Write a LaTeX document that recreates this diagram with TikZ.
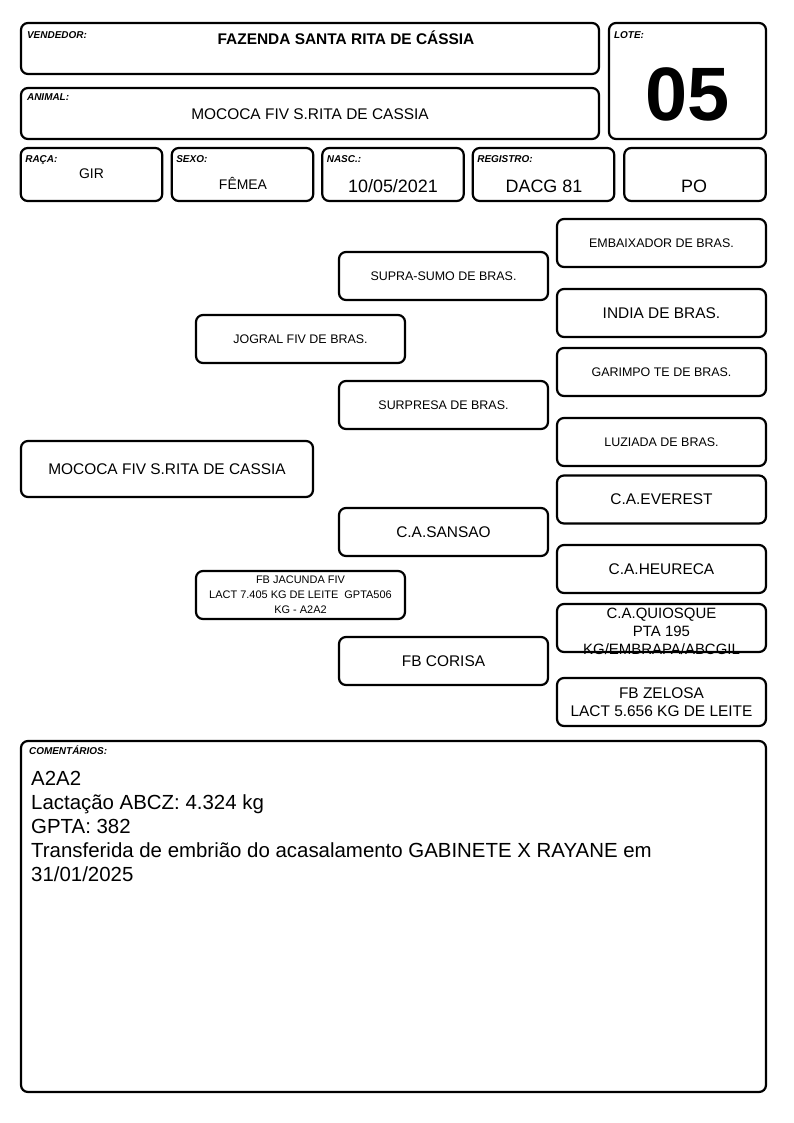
\documentclass[tikz,border=0pt]{standalone}
\usepackage{fontspec}
\setmainfont{Liberation Sans}
\usepackage{tikz}

\begin{document}
\begin{tikzpicture}[x=1bp,y=-1bp,
	caixa/.style={draw,rounded corners=7bp,line width=2.2bp,inner sep=0pt},
	rotulo/.style={font={\fontsize{10}{12}\selectfont\bfseries\itshape},anchor=base west,inner sep=0pt},
	valor/.style={font={\fontsize{14}{16}\selectfont},anchor=base,inner sep=0pt}] % ficha do lote
	\useasboundingbox (0,0) rectangle (794,1123);
	
	% cabecalho
	\node[caixa,minimum width=578bp,minimum height=51bp] (vendedor) at (310,48.5){};
	\node[caixa,minimum width=578bp,minimum height=51bp] (animal) at (310,113.5){};
	\node[caixa,minimum width=157bp,minimum height=116bp] (lote) at (687.5,81){};
	
	\node[rotulo] (rvendedor) at ([shift={(7,17)}] vendedor.north west){VENDEDOR:};
	\node[rotulo] (ranimal) at ([shift={(7,14)}] animal.north west){ANIMAL:};
	\node[rotulo] (rlote) at ([shift={(6,17)}] lote.north west){LOTE:};
	
	\node[font={\fontsize{15.5}{18}\selectfont\bfseries},anchor=base,inner sep=0pt] 
	(nvendedor) at (346,44){FAZENDA SANTA RITA DE CÁSSIA};
	\node[font={\fontsize{15.5}{18}\selectfont},anchor=base,inner sep=0pt] 
	(nanimal) at (310,119){MOCOCA FIV S.RITA DE CASSIA};
	\node[font={\fontsize{76}{80}\selectfont\bfseries},anchor=base,inner sep=0pt] 
	(nlote) at (687.5,120){05};
	
	% linha de dados
	\foreach \i/\cx/\rot in {1/91.5/RAÇA:,2/242.5/SEXO:,3/393/NASC.:,4/543.5/REGISTRO:,5/695/}{
		\node[caixa,minimum width=141.5bp,minimum height=53bp] (d\i) at (\cx,174.5){};
		\node[rotulo] (rd\i) at ([shift={(5.5,15.5)}] d\i.north west){\rot};
	}
	\node[valor] (v1) at (91.5,178){GIR};
	\node[valor] (v2) at (243,189){FÊMEA};
	\node[valor,font={\fontsize{18}{20}\selectfont}] (v3) at (393,192){10/05/2021};
	\node[valor,font={\fontsize{18}{20}\selectfont}] (v4) at (544,192){DACG 81};
	\node[valor,font={\fontsize{18}{20}\selectfont}] (v5) at (694,192){PO};
	
	% genealogia
	\foreach \i/\cx/\cy/\tam/\nome in {1/661.5/243/12.5/EMBAIXADOR DE BRAS.,
		2/443.5/276/12.5/SUPRA-SUMO DE BRAS.,
		3/661.5/313/15.5/INDIA DE BRAS.,
		4/300.5/339/12.5/JOGRAL FIV DE BRAS.,
		5/661.5/372/12.5/GARIMPO TE DE BRAS.,
		6/443.5/405/12.5/SURPRESA DE BRAS.,
		7/661.5/442/12.5/LUZIADA DE BRAS.,
		8/661.5/499.5/15.5/C.A.EVEREST,
		9/443.5/532/15.5/C.A.SANSAO,
		10/661.5/569/15.5/C.A.HEURECA,
		11/443.5/661/15.5/FB CORISA}{
		\node[caixa,font={\fontsize{\tam}{18}\selectfont},minimum width=209bp,minimum height=48bp] 
		(g\i) at (\cx,\cy){\nome};
	}
	\node[caixa,font={\fontsize{15.5}{18}\selectfont},minimum width=292bp,minimum height=56bp] 
	(g0) at (167,469){MOCOCA FIV S.RITA DE CASSIA};
	
	\node[caixa,font={\fontsize{11}{15}\selectfont},align=center,minimum width=209bp,minimum height=48bp] 
	(g12) at (300.5,595){FB JACUNDA FIV\\LACT 7.405 KG DE LEITE~~GPTA506\\KG - A2A2};
	\node[font={\fontsize{15}{18}\selectfont},align=center,inner sep=0pt] 
	(t13) at (661.5,631){C.A.QUIOSQUE\\PTA 195\\KG/EMBRAPA/ABCGIL};
	\node[caixa,minimum width=209bp,minimum height=48bp] (g13) at (661.5,628){};
	\node[caixa,font={\fontsize{15.5}{18}\selectfont},align=center,minimum width=209bp,minimum height=48bp] 
	(g14) at (661.5,702){FB ZELOSA\\LACT 5.656 KG DE LEITE};
	
	% comentarios
	\node[caixa,minimum width=745bp,minimum height=351bp] (coment) at (393.5,916.5){};
	\node[rotulo] (rcoment) at ([shift={(9,15)}] coment.north west){COMENTÁRIOS:};
	\node[font={\fontsize{20.5}{24}\selectfont},align=left,anchor=north west,inner sep=0pt] 
	(tcoment) at (31,771){A2A2\\Lactação ABCZ: 4.324 kg\\GPTA: 382\\
		Transferida de embrião do acasalamento GABINETE X RAYANE em\\31/01/2025};
\end{tikzpicture}
\end{document}
